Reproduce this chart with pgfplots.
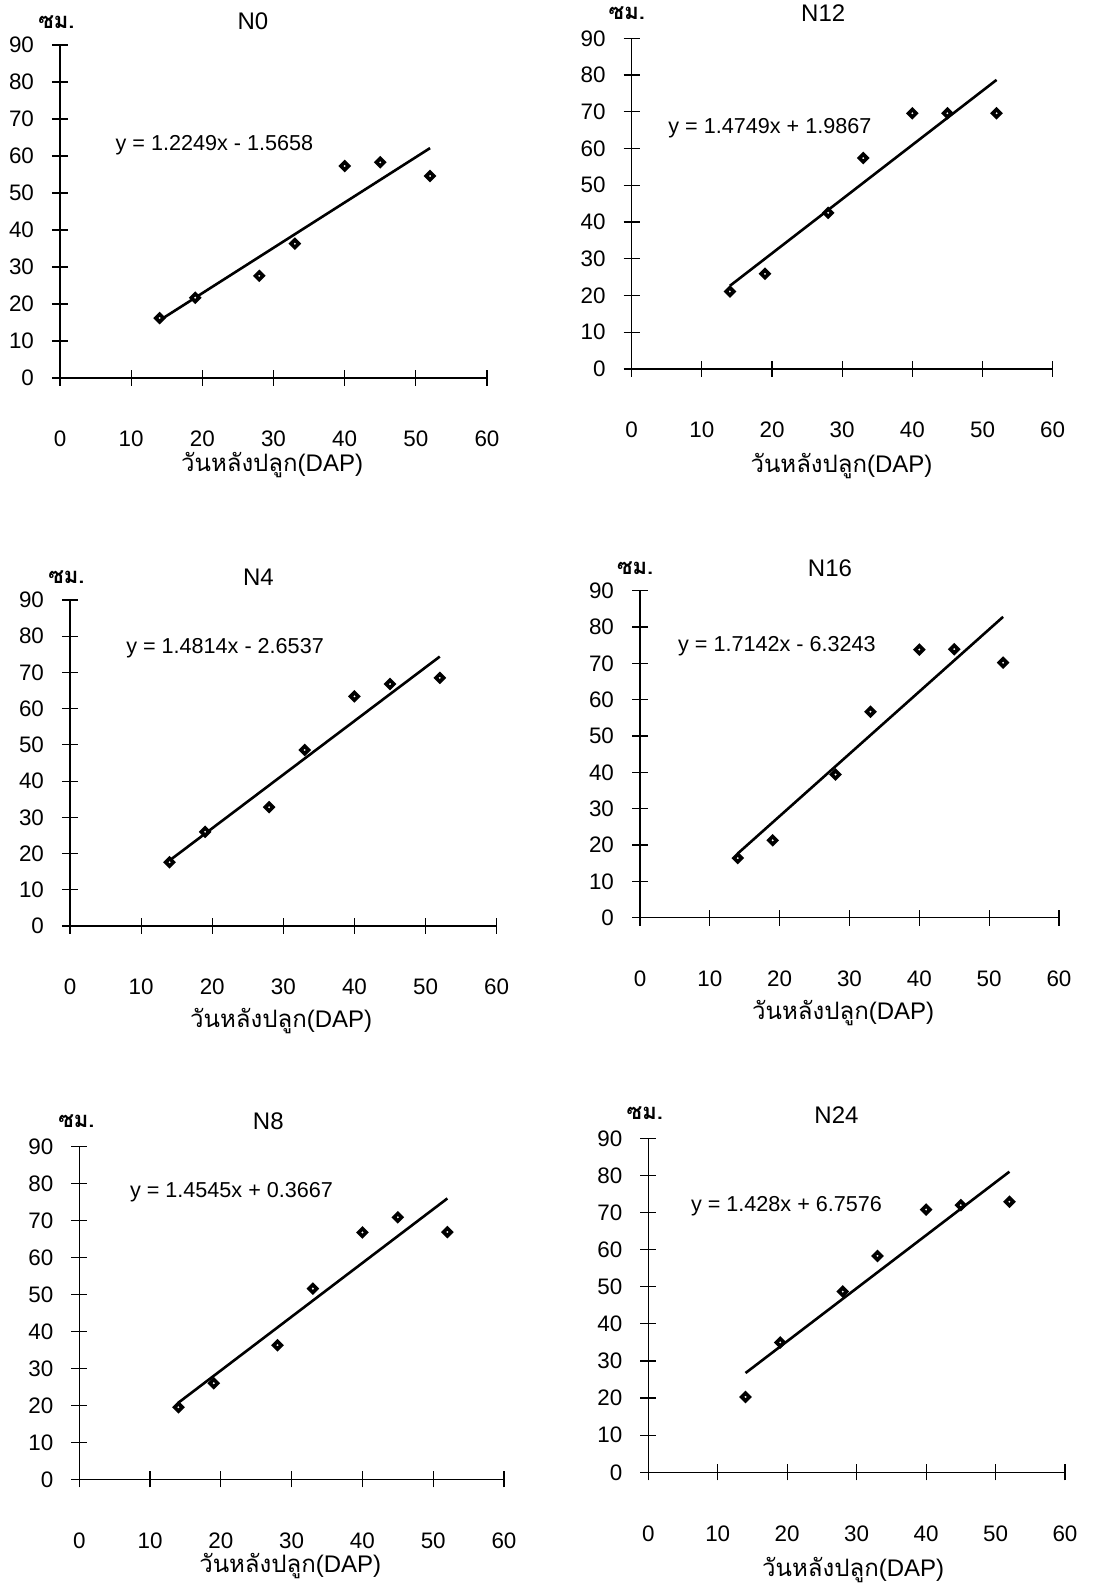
\documentclass[border=0pt]{standalone}
\usepackage{fontspec}
\setmainfont{Liberation Sans}
\newfontfamily\thai[Script=Thai]{Loma}
\usepackage{pgfplots}
\usepackage{pgfplotstable}
\pgfplotsset{compat=1.18}

% plant height (cm) against days after planting, one table per N rate
\pgfplotstableread{
x y
14 16.2
19 21.7
28 27.6
33 36.3
40 57.3
45 58.3
52 54.6
}\dataNzero
\pgfplotstableread{
x y
14 21.1
19 25.9
28 42.5
33 57.4
40 69.6
45 69.6
52 69.6
}\dataNtwelve
\pgfplotstableread{
x y
14 17.6
19 26.0
28 32.8
33 48.6
40 63.4
45 66.8
52 68.5
}\dataNfour
\pgfplotstableread{
x y
14 16.4
19 21.3
28 39.4
33 56.7
40 73.8
45 73.9
52 70.2
}\dataNsixteen
\pgfplotstableread{
x y
14 19.5
19 26.0
28 36.3
33 51.6
40 66.8
45 70.9
52 66.9
}\dataNeight
\pgfplotstableread{
x y
14 20.3
19 35.0
28 48.7
33 58.3
40 70.8
45 72.0
52 72.9
}\dataNtwentyfour

\pgfplotsset{
  panel/.style={
    scale only axis, anchor=south west,
    xmin=0, xmax=60, ymin=0, ymax=90,
    axis lines=left,
    axis line style={-, line width=0.7pt},
    xtick={0,10,...,60}, ytick={0,10,...,90},
    tick align=center, major tick length=8pt,
    every tick/.style={black, line width=0.6pt},
    tick label style={font=\fontsize{11.2}{13}\selectfont},
    xticklabel style={yshift=-19pt},
    yticklabel style={xshift=-5.5pt},
    /pgf/number format/assume math mode=true,
    clip=false,
  },
}
\tikzset{
  pts/.style={only marks, mark=square*, mark size=1.35pt,
    mark options={fill=white, draw=black, line width=1.8pt, rotate=45}},
  trend/.style={black, line width=1.3pt},
  ttl/.style={font=\fontsize{12}{14}\selectfont},
  unit/.style={font=\thai\bfseries\fontsize{11}{13}\selectfont},
  eq/.style={font=\fontsize{10.8}{13}\selectfont},
  xlab/.style={font=\fontsize{12}{14}\selectfont},
}

\begin{document}
\begin{tikzpicture}
\path[use as bounding box] (0,0) rectangle (548pt,796pt);

% N0
\begin{axis}[panel, at={(30pt,607pt)}, width=213.5pt, height=166.5pt]
\addplot[pts] table {\dataNzero};
\addplot[trend, no marks] coordinates {(14,15.58) (52,62.13)};
\node[ttl] at (axis cs:27.1,96.3) {N0};
\node[unit] at (axis cs:-0.5,96.3) {ซม.};
\node[eq] at (axis cs:21.7,63) {y = 1.2249x - 1.5658};
\node[xlab] at (axis cs:29.8,-23.5) {{\thai วันหลังปลูก}(DAP)};
\end{axis}

% N12
\begin{axis}[panel, at={(315.85pt,611.5pt)}, width=210.5pt, height=165.35pt]
\addplot[pts] table {\dataNtwelve};
\addplot[trend, no marks] coordinates {(14,22.64) (52,78.68)};
\node[ttl] at (axis cs:27.3,96.8) {N12};
\node[unit] at (axis cs:-0.7,96.8) {ซม.};
\node[eq] at (axis cs:19.7,65.5) {y = 1.4749x + 1.9867};
\node[xlab] at (axis cs:29.9,-26.5) {{\thai วันหลังปลูก}(DAP)};
\end{axis}

% N4
\begin{axis}[panel, at={(35pt,333pt)}, width=213.35pt, height=163pt]
\addplot[pts] table {\dataNfour};
\addplot[trend, no marks] coordinates {(14,18.09) (52,74.38)};
\node[ttl] at (axis cs:26.5,96.4) {N4};
\node[unit] at (axis cs:-0.5,96.4) {ซม.};
\node[eq] at (axis cs:21.8,76.7) {y = 1.4814x - 2.6537};
\node[xlab] at (axis cs:29.7,-26.2) {{\thai วันหลังปลูก}(DAP)};
\end{axis}

% N16
\begin{axis}[panel, at={(320pt,337.15pt)}, width=209.5pt, height=163.5pt]
\addplot[pts] table {\dataNsixteen};
\addplot[trend, no marks] coordinates {(14,17.67) (52,82.81)};
\node[ttl] at (axis cs:27.2,96.2) {N16};
\node[unit] at (axis cs:-0.7,96.2) {ซม.};
\node[eq] at (axis cs:19.6,74.6) {y = 1.7142x - 6.3243};
\node[xlab] at (axis cs:29.1,-26.2) {{\thai วันหลังปลูก}(DAP)};
\end{axis}

% N8
\begin{axis}[panel, at={(39.65pt,56.35pt)}, width=212.35pt, height=166.3pt]
\addplot[pts] table {\dataNeight};
\addplot[trend, no marks] coordinates {(14,20.73) (52,76.00)};
\node[ttl] at (axis cs:26.7,96.8) {N8};
\node[unit] at (axis cs:-0.4,96.8) {ซม.};
\node[eq] at (axis cs:21.5,77.8) {y = 1.4545x + 0.3667};
\node[xlab] at (axis cs:29.8,-23.5) {{\thai วันหลังปลูก}(DAP)};
\end{axis}

% N24
\begin{axis}[panel, at={(324.15pt,59.85pt)}, width=208.35pt, height=167pt]
\addplot[pts] table {\dataNtwentyfour};
\addplot[trend, no marks] coordinates {(14,26.75) (52,81.01)};
\node[ttl] at (axis cs:27.1,96.3) {N24};
\node[unit] at (axis cs:-0.5,96.7) {ซม.};
\node[eq] at (axis cs:19.9,71.6) {y = 1.428x + 6.7576};
\node[xlab] at (axis cs:29.5,-26.4) {{\thai วันหลังปลูก}(DAP)};
\end{axis}
\end{tikzpicture}
\end{document}
